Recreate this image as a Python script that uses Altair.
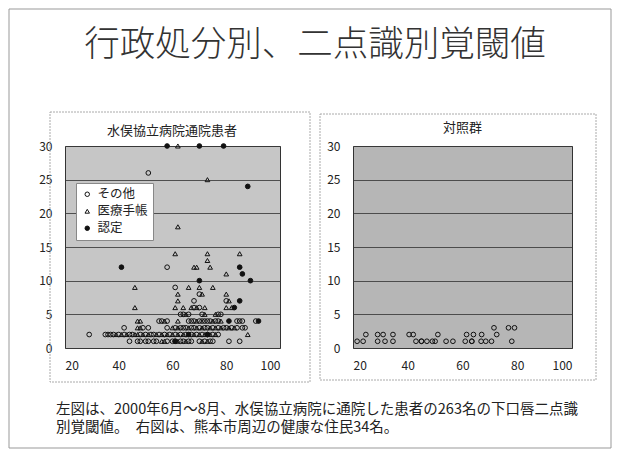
import altair as alt
import pandas as pd

FONT = "Noto Sans CJK JP"

# ---- left chart data (age, threshold) by category ----
other_age = [51, 58, 61, 70, 68, 80, 68, 70,
             63, 64, 66, 71, 77, 78,
             55, 56, 58, 66, 67, 68, 70, 71, 72, 73, 74, 76, 77, 84, 85, 86, 91,
             42, 49, 51, 58, 61, 63, 64, 65, 67, 68, 70, 72, 73, 75, 77, 79, 80, 82, 84, 86, 87,
             29, 35, 36, 37, 38, 40, 42, 44, 45, 48, 50, 52, 53, 55, 57, 59, 61, 63, 65, 67, 69, 71, 73, 75, 77,
             44, 47, 48, 50, 51, 53, 54, 58, 60, 61, 63, 64, 66, 67, 70, 72, 74, 75, 81, 85]
other_val = [26, 12, 9, 8, 7, 7, 6, 6,
             5, 5, 5, 5, 5, 5,
             4, 4, 4, 4, 4, 4, 4, 4, 4, 4, 4, 4, 4, 4, 4, 4, 4,
             3, 3, 3, 3, 3, 3, 3, 3, 3, 3, 3, 3, 3, 3, 3, 3, 3, 3, 3, 3, 3,
             2, 2, 2, 2, 2, 2, 2, 2, 2, 2, 2, 2, 2, 2, 2, 2, 2, 2, 2, 2, 2, 2, 2, 2, 2,
             1, 1, 1, 1, 1, 1, 1, 1, 1, 1, 1, 1, 1, 1, 1, 1, 1, 1, 1, 1]

techo_age = [62, 73, 62, 61, 73, 85, 73, 68, 69, 74, 80,
             46, 66, 70, 75, 62, 71, 80, 62, 81,
             46, 61, 64, 67, 69, 72, 80, 82,
             65, 72, 76,
             47, 48, 57, 62, 69, 75, 78,
             47, 48, 60, 62, 66, 69, 71, 74, 76, 78, 81, 83,
             39, 41, 43, 46, 47, 49, 51, 54, 56, 58, 60, 62, 64, 66, 68, 70, 72, 74, 76, 88,
             56, 57, 62, 65, 71, 73]
techo_val = [30, 25, 18, 14, 14, 14, 13, 12, 12, 12, 11,
             9, 9, 9, 9, 8, 8, 8, 7, 7,
             6, 6, 6, 6, 6, 6, 6, 6,
             5, 5, 5,
             4, 4, 4, 4, 4, 4, 4,
             3, 3, 3, 3, 3, 3, 3, 3, 3, 3, 3, 3,
             2, 2, 2, 2, 2, 2, 2, 2, 2, 2, 2, 2, 2, 2, 2, 2, 2, 2, 2, 2,
             1, 1, 1, 1, 1, 1]

nintei_age = [58, 70, 79, 88, 41, 85, 86, 70, 89, 85, 83, 81, 92, 66, 73, 61]
nintei_val = [30, 30, 30, 24, 12, 12, 11, 10, 10, 7, 6, 4, 4, 2, 2, 1]

# ---- right chart data (control group) ----
ctrl_age = [21.5, 23.7, 29, 31.7, 34.6, 43, 45, 45, 47, 49, 50, 54, 56.5, 61, 63.4, 63.4, 66.8, 68.5, 70.6, 78,
            24.7, 29, 31, 34.6, 40.5, 42, 51, 61.5, 64, 67, 72.5,
            71.5, 76.8, 79]
ctrl_val = [1, 1, 1, 1, 1, 1, 1, 1, 1, 1, 1, 1, 1, 1, 1, 1, 1, 1, 1, 1,
            2, 2, 2, 2, 2, 2, 2, 2, 2, 2, 2,
            3, 3, 3]

cats = ["その他", "医療手帳", "認定"]

main_title = "行政処分別、二点識別覚閾値"
left_title = "水俣協立病院通院患者"
right_title = "対照群"
note1 = "左図は、2000年6月～8月、水俣協立病院に通院した患者の263名の下口唇二点識"
note2 = "別覚閾値。　右図は、熊本市周辺の健康な住民34名。"

df_left = pd.concat([
    pd.DataFrame({"age": other_age, "val": other_val, "cat": cats[0]}),
    pd.DataFrame({"age": techo_age, "val": techo_val, "cat": cats[1]}),
    pd.DataFrame({"age": nintei_age, "val": nintei_val, "cat": cats[2]}),
], ignore_index=True)
df_right = pd.DataFrame({"age": ctrl_age, "val": ctrl_val})
one = pd.DataFrame({"k": [0]})

xscale = alt.Scale(domain=[20, 100], nice=False)
yscale = alt.Scale(domain=[0, 30], nice=False)


def xaxis():
    return alt.Axis(values=[20, 40, 60, 80, 100], grid=False, ticks=False, domain=False,
                    labelPadding=12, labelFontSize=12, labelFont=FONT, labelColor="#222", title=None)


def yaxis():
    return alt.Axis(values=[0, 5, 10, 15, 20, 25, 30], grid=True, gridColor="#3a3a3a",
                    gridOpacity=0.85, ticks=False, domain=False, labelPadding=13,
                    labelFontSize=12, labelFont=FONT, labelColor="#222", title=None)


def legend():
    return alt.Legend(orient="none", legendX=11, legendY=37, title=None,
                      fillColor="white", strokeColor="#888", padding=5,
                      labelFontSize=12.5, labelFont=FONT, labelColor="#222",
                      symbolSize=20, rowPadding=4, labelOffset=4,
                      symbolStrokeWidth=1)


def box(x1, x2, y1, y2, color, dash=None):
    kw = dict(fillOpacity=0, stroke=color, strokeWidth=1)
    if dash:
        kw["strokeDash"] = dash
    return alt.Chart(one).mark_rect(**kw).encode(
        x=alt.value(x1), x2=alt.value(x2), y=alt.value(y1), y2=alt.value(y2))


def text(t, x, y, size, align, weight=400, color="#222"):
    return alt.Chart(one).mark_text(text=t, font=FONT, fontSize=size, align=align,
                                    fontWeight=weight, baseline="middle",
                                    color=color).encode(
        x=alt.value(x), y=alt.value(y))


pts_left = alt.Chart(df_left).mark_point(size=22, strokeWidth=1, opacity=1, filled=False).encode(
    x=alt.X("age:Q", scale=xscale, axis=xaxis()),
    y=alt.Y("val:Q", scale=yscale, axis=yaxis()),
    shape=alt.Shape("cat:N", scale=alt.Scale(domain=cats, range=["circle", "triangle-up", "circle"]),
                    legend=legend()),
    fill=alt.Fill("cat:N", scale=alt.Scale(domain=cats, range=["transparent", "transparent", "#111"]),
                  legend=legend()),
    stroke=alt.Stroke("cat:N", scale=alt.Scale(domain=cats, range=["#111", "#111", "#111"]),
                      legend=legend()),
)

left = alt.layer(
    box(-56, 546, -137, 302, "#999"),
    box(-15, 245, -34, 236, "#aaa", [2, 1]),
    text(main_title, 250, -101, 35.5, "center", 300, "#333"),
    text(left_title, 107, -15, 13, "center"),
    text(note1, -9, 264, 14.5, "left"),
    text(note2, -9, 282, 14.5, "left"),
    pts_left,
).properties(
    width=215, height=202,
    view=alt.ViewBackground(fill="#c6c6c6", stroke="#333", strokeWidth=1),
)

pts_right = alt.Chart(df_right).mark_point(size=22, strokeWidth=1, opacity=1,
                                            shape="circle", fill="transparent",
                                            stroke="#111").encode(
    x=alt.X("age:Q", scale=xscale, axis=xaxis()),
    y=alt.Y("val:Q", scale=yscale, axis=yaxis()),
)

right = alt.layer(
    box(-33, 243, -32, 234, "#aaa", [2, 1]),
    text(right_title, 109.5, -18, 13, "center"),
    pts_right,
).properties(
    width=219, height=202,
    view=alt.ViewBackground(fill="#b6b6b6", stroke="#333", strokeWidth=1),
)

chart = alt.hconcat(left, right, spacing=73, bounds="flush").properties(
    padding=0, background="white")

chart.save("out.html", embed_options={"renderer": "svg", "actions": False})
